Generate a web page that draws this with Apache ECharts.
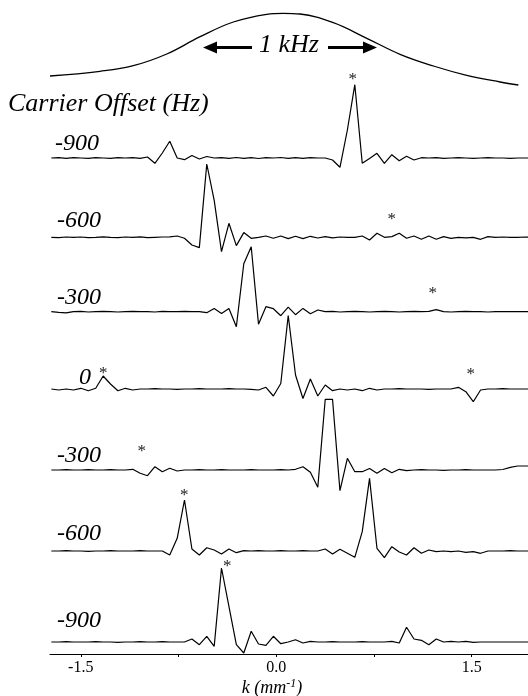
<!DOCTYPE html>
<html><head><meta charset="utf-8">
<script src="https://cdn.jsdelivr.net/npm/echarts@6/dist/echarts.min.js"></script>
<style>html,body{margin:0;padding:0;background:#fff}#c{width:528px;height:696px}</style>
</head><body><div id="c"></div>
<script>
// ---- sample grid, k (mm^-1) ----
const K = [-1.726,-1.669,-1.612,-1.556,-1.499,-1.442,-1.385,-1.328,-1.272,-1.215,
-1.158,-1.101,-1.044,-0.988,-0.931,-0.874,-0.817,-0.760,-0.704,-0.647,
-0.590,-0.533,-0.476,-0.420,-0.363,-0.306,-0.249,-0.192,-0.136,-0.079,
-0.022,0.035,0.092,0.148,0.205,0.262,0.319,0.376,0.432,0.489,
0.546,0.603,0.660,0.716,0.773,0.830,0.887,0.944,1.000,1.057,
1.114,1.171,1.228,1.284,1.341,1.398,1.455,1.512,1.568,1.625,
1.682,1.739,1.796,1.852,1.909,1.966];

// ---- traces (a.u.), top to bottom ----
const T1 = [0,0.3,-0.3,0.3,0,-0.3,0.3,0,-0.3,0.3,0,0.3,-0.3,
1,-5.3,5,16.7,0,-1.7,2.5,-1,1.5,0,
0.3,-0.3,0.5,-0.3,0.3,-0.5,0.3,0,0.5,-0.3,0.3,-0.3,0.3,0,
0,-2,-9.3,28,73.3,-5.3,-0.5,4.7,-5.3,3.3,-2.7,1.7,-2,0.3,
0,0.3,-0.3,0,0.3,0,-0.3,0,0.3,0,0,-0.3,0,0,0];
const T2 = [0,-0.3,0.3,0,0.3,-0.3,0,0.5,0,-0.3,0.3,0,0.5,-0.3,0,0.3,0.5,
1.3,-1,-7.7,-10.3,73.3,37,-14.3,14,-8.3,4.7,-1,0,1.3,-1,
1.3,-1.3,1,-1.3,1,-0.7,0.7,-0.5,0.3,0,
0,1.3,-2.7,4,0,0.7,4,-1,1.3,-2,1.3,-2,0.7,-1,0,-0.5,0,-2,0.7,
0,0.3,0,0,0.3,0];
const T3 = [0,-0.7,-1.2,0,0.3,-0.3,0,0.3,0,-0.3,0,0.3,0,0,-0.3,0.3,0,0,0.3,0,0,
-1,3.3,-1.7,3.3,-15,48,65,-12.5,5,3,-4,4.5,-3,3.3,-2,1.7,
0,0.3,-0.3,0,0.3,0,-0.3,0,0.3,0,-0.3,0,0.3,0,0.3,2,0,-0.3,0,0.3,0,0,-0.3,0,0,0,0,0,0];
const T4 = [0,-1,0,-1,0.7,-1.7,0.7,13,5,-1.7,0.7,-1,
0,0,0.3,0,0,-0.3,0,0,0.3,0,0,0,0.3,0,0,-0.3,
-1,1.7,-7,5.5,73.5,14,-9.5,10,-7,4,-1.7,0,-1,0,-1.7,0.7,-1,
0,0,0.3,0,0,0,-0.3,0,0,0,1.7,-2.7,-12.7,-1,0,0,0.3,0,0,0,0];
const T5 = [0,0,0.3,0,0,0.3,0,0,0.3,0,0,
0.7,-3.3,-5.7,3.3,-1.7,1.7,-1,
0,0,0.3,0,0,0.3,0,0,0,0.3,0,0,0,0.3,0,
0.7,3.3,-2.3,-17.3,70.7,70.7,-20.7,11.7,-1.7,-1.7,1.5,-3.3,1.5,-2.7,0.7,-0.7,
0,0.3,0,0,-0.3,0,0,0.3,0,0,0,0,0.5,2.7,4,4,4];
const T6 = [0,0,0.3,0,0,-0.3,0,0,0.3,0,0,0,0.3,0,0,0,
-4,12.7,51,2,-4,3.3,1,-3,2,-1.7,0.3,
0,0.3,0,0,0.3,0,0,0.3,0,
0,2,-3,1.7,-2.3,-6.3,19.3,72.7,2.7,-6.7,4.3,-1,-4,3.3,-2.3,1,-0.7,0,-0.7,0,-1.3,-0.7,-2.3,0,
0,0,0.3,0,0,0];
const T7 = [0,0,0.3,0,0,0,0.3,0,0,-0.3,0,0,0.3,0,0,0.3,0,0,
0,3,-2.7,5.7,-4.3,74,35.7,-2.7,-11,10.7,-2,-3.3,5.7,-1.7,0,2.3,-1,0.7,
0,0,0.3,0,0,0,0.3,0,0,0,0.7,-1,
14.7,3,1.7,-2.7,3,0,0.7,0,0.7,-0.3,0,0,0,0,0,0,0,0];
const traces = [T1, T2, T3, T4, T5, T6, T7];
const offsetLabels = ['-900', '-600', '-300', '0', '-300', '-600', '-900'];

// asterisk annotations [k, a.u.] per trace
const S1 = [[0.587, 82.2]];
const S2 = [[0.886, 21.6]];
const S3 = [[1.201, 21.7]];
const S4 = [[-1.327, 19.7], [1.493, 18.3]];
const S5 = [[-1.032, 22.7]];
const S6 = [[-0.705, 59.3]];
const S7 = [[-0.375, 79.6]];
const stars = [S1, S2, S3, S4, S5, S6, S7];

// excitation profile (top curve)
const gaussK = [-1.736,-1.352,-1.097,-0.840,-0.584,-0.329,-0.073,0.054,0.183,0.438,0.695,0.950,1.206,1.462,1.718,1.858];
const gaussV = [14,18.7,24.3,36,53.3,68,75.7,76.7,76,67.3,51.7,35.7,24,14.7,8,5];

const xTickLabels = [-1.5, 0, 1.5];
const xTicks = [-1.5, -0.75, 0, 0.75, 1.5];

// ---- layout ----
const X_MIN = -1.736, X_MAX = 1.932;
const baselines = [158, 237.3, 311.7, 389, 470, 551, 642];
const labelPos = [[55,144],[57,221],[57,298],[79,378],[57,456],[57,534],[57,621]];
const FONT = 'Liberation Serif';

const grids = [{left: 50, right: 0, top: 0, height: 90}];
const xAxes = [{gridIndex: 0, type: 'value', min: X_MIN, max: X_MAX, show: false}];
const yAxes = [{gridIndex: 0, type: 'value', min: 0, max: 90, show: false}];
const series = [{
  type: 'line', xAxisIndex: 0, yAxisIndex: 0, smooth: 0.4, symbol: 'none', clip: false,
  data: gaussK.map((k, j) => [k, gaussV[j]]),
  lineStyle: {color: '#000', width: 1.3}
}];

traces.forEach((vals, t) => {
  const last = t === traces.length - 1;
  const gi = t + 1;
  grids.push({left: 50, right: 0, top: baselines[t] - 90, height: last ? 102 : 120});
  xAxes.push(last ? {
    gridIndex: gi, type: 'value', min: X_MIN, max: X_MAX,
    splitLine: {show: false},
    axisLine: {show: true, onZero: false, lineStyle: {color: '#000', width: 1}},
    axisTick: {show: true, inside: false, length: 3, customValues: xTicks, lineStyle: {color: '#000', width: 1}},
    axisLabel: {show: true, customValues: xTickLabels, margin: 6, color: '#000',
      fontFamily: FONT, fontSize: 16, formatter: v => v.toFixed(1)}
  } : {gridIndex: gi, type: 'value', min: X_MIN, max: X_MAX, show: false});
  yAxes.push({gridIndex: gi, type: 'value', min: last ? -12 : -30, max: 90, show: false});
  series.push({
    type: 'line', xAxisIndex: gi, yAxisIndex: gi, symbol: 'none', clip: false,
    data: K.map((k, j) => [k, vals[j]]),
    lineStyle: {color: '#000', width: 1.2},
    markPoint: {
      symbol: 'circle', symbolSize: 1, itemStyle: {color: 'rgba(0,0,0,0)'},
      label: {show: true, position: 'inside', formatter: '*', color: '#222',
        fontFamily: FONT, fontSize: 17, offset: [0, 4]},
      data: stars[t].map(p => ({coord: p}))
    }
  });
});

const g = [];
g.push({type: 'text', x: 8, y: 104, style: {text: 'Carrier Offset (Hz)', fill: '#000',
  font: 'italic 26px "' + FONT + '"', textAlign: 'left', textVerticalAlign: 'middle'}});
offsetLabels.forEach((s, t) => {
  g.push({type: 'text', x: labelPos[t][0], y: labelPos[t][1], style: {text: s, fill: '#000',
    font: 'italic 24px "' + FONT + '"', textAlign: 'left', textVerticalAlign: 'middle'}});
});
g.push({type: 'text', x: 289, y: 45, style: {text: '1 kHz', fill: '#000',
  font: 'italic 26px "' + FONT + '"', textAlign: 'center', textVerticalAlign: 'middle'}});
// arrows
g.push({type: 'line', shape: {x1: 214, y1: 47.5, x2: 252, y2: 47.5}, style: {stroke: '#000', lineWidth: 3}});
g.push({type: 'polygon', shape: {points: [[203, 47.5], [217, 41.5], [217, 53.5]]}, style: {fill: '#000'}});
g.push({type: 'line', shape: {x1: 328, y1: 47.5, x2: 366, y2: 47.5}, style: {stroke: '#000', lineWidth: 3}});
g.push({type: 'polygon', shape: {points: [[377, 47.5], [363, 41.5], [363, 53.5]]}, style: {fill: '#000'}});
// axis name with superscript
g.push({type: 'text', x: 272, y: 688, style: {
  text: '{m|k (mm}{s|-1}{m|)}', textAlign: 'center', textVerticalAlign: 'middle', fill: '#000',
  rich: {
    m: {fontFamily: FONT, fontStyle: 'italic', fontSize: 18, lineHeight: 20, fill: '#000', color: '#000'},
    s: {fontFamily: FONT, fontStyle: 'italic', fontSize: 12, lineHeight: 12, verticalAlign: 'top', fill: '#000', color: '#000'}
  }}});

const chart = echarts.init(document.getElementById('c'), null, {renderer: 'canvas'});
chart.setOption({
  animation: false,
  backgroundColor: '#fff',
  grid: grids, xAxis: xAxes, yAxis: yAxes, series: series,
  graphic: g.map(e => Object.assign({silent: true}, e))
});
</script></body></html>
